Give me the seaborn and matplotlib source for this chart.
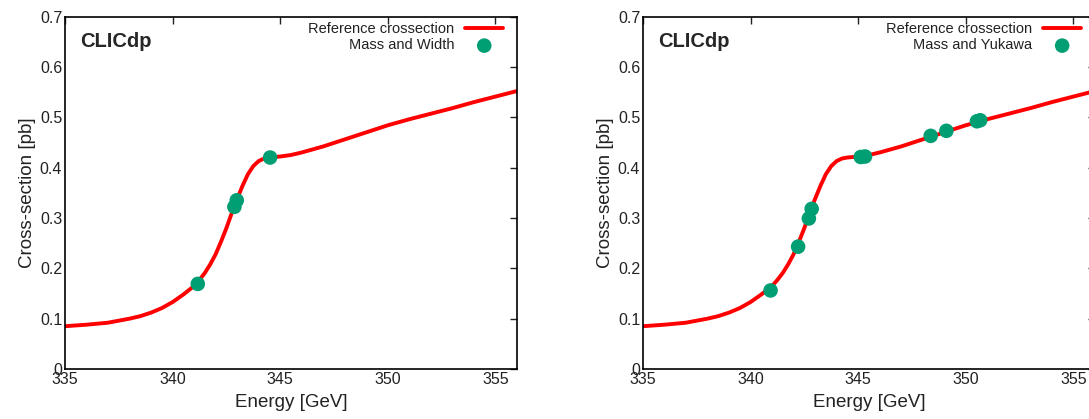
import matplotlib
matplotlib.use("Agg")
import matplotlib.pyplot as plt
import seaborn as sns
import pandas as pd

# reference cross-section curve
energy = [335, 336, 337, 337.5, 338, 338.5, 339, 339.5, 340, 340.5, 341, 341.25,
          341.5, 341.75, 342, 342.25, 342.5, 342.75, 343, 343.25, 343.5, 343.75,
          344, 344.25, 344.5, 344.75, 345, 345.5, 346, 346.5, 347, 348, 349, 350,
          351, 352, 353, 354, 355, 356]
xsec = [0.085, 0.088, 0.092, 0.096, 0.100, 0.105, 0.112, 0.121, 0.133, 0.148,
        0.165, 0.177, 0.191, 0.208, 0.228, 0.253, 0.280, 0.310, 0.338, 0.364,
        0.387, 0.403, 0.413, 0.418, 0.420, 0.421, 0.422, 0.425, 0.430, 0.436,
        0.442, 0.456, 0.470, 0.484, 0.496, 0.507, 0.518, 0.530, 0.541, 0.552]

# optimised scan points
width_e = [341.17, 342.87, 342.98, 344.53]
width_xs = [0.169, 0.322, 0.335, 0.420]

yukawa_e = [340.93, 342.21, 342.71, 342.84, 345.12, 345.32, 348.37, 349.10, 350.52, 350.67]
yukawa_xs = [0.156, 0.243, 0.299, 0.318, 0.421, 0.422, 0.463, 0.473, 0.492, 0.494]

xticks = [335, 340, 345, 350, 355]
yticks = [0, 0.1, 0.2, 0.3, 0.4, 0.5, 0.6, 0.7]
ytick_labels = ["0", "0.1", "0.2", "0.3", "0.4", "0.5", "0.6", "0.7"]

sns.set_style("white")
plt.rcParams["font.family"] = ["Liberation Sans", "DejaVu Sans"]

curve = pd.DataFrame({"energy": energy, "xsec": xsec})
red = "#ff0000"
green = "#009e73"

fig = plt.figure(figsize=(10.89, 4.19), dpi=100)
ax1 = fig.add_axes([0.0597, 0.1193, 0.415, 0.8413])
ax2 = fig.add_axes([0.5904, 0.1193, 0.415, 0.8413])

panels = [(ax1, width_e, width_xs, "Mass and Width"),
          (ax2, yukawa_e, yukawa_xs, "Mass and Yukawa")]

for ax, pe, pxs, label in panels:
    sns.lineplot(data=curve, x="energy", y="xsec", ax=ax, color=red, lw=2.8,
                 label="Reference crossection", zorder=2)
    pts = pd.DataFrame({"energy": pe, "xsec": pxs})
    sns.scatterplot(data=pts, x="energy", y="xsec", ax=ax, color=green, s=110,
                    edgecolor="none", label=label, zorder=3)
    ax.set_xlim(335, 356)
    ax.set_ylim(0, 0.7)
    ax.set_xticks(xticks)
    ax.set_yticks(yticks)
    ax.set_yticklabels(ytick_labels)
    ax.tick_params(direction="in", length=5, width=1, top=True, right=True,
                   labelsize=11.5, colors="#222222", pad=2)
    ax.tick_params(axis="x", pad=2)
    for s in ax.spines.values():
        s.set_color("black")
        s.set_linewidth(1.2)
    ax.set_xlabel("Energy [GeV]", fontsize=13.5, color="#222222", labelpad=5)
    ax.set_ylabel("Cross-section [pb]", fontsize=13.5, color="#222222", labelpad=3)
    ax.text(0.033, 0.928, "CLICdp", transform=ax.transAxes, fontsize=14.5,
            fontweight="bold", va="center", ha="left")
    leg = ax.legend(loc="upper right", frameon=False, markerfirst=False,
                    fontsize=10.5, handlelength=2.6, borderaxespad=0.2,
                    bbox_to_anchor=(1 - 5 / 452, 1 + 3 / 352),
                    labelspacing=0.15, handletextpad=0.75)
    for t in leg.get_texts():
        t.set_ha("right")
        t.set_color("#222222")

fig.savefig("out.png", dpi=100)
